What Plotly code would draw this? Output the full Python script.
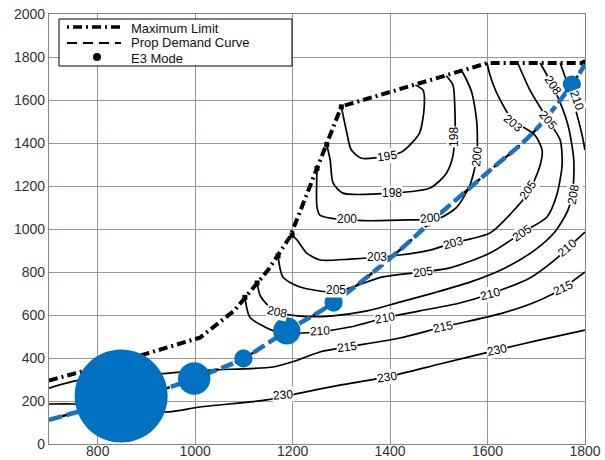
import plotly.graph_objects as go

# ---------------- data ----------------
x_ticks = [800, 1000, 1200, 1400, 1600, 1800]
y_ticks = [0, 200, 400, 600, 800, 1000, 1200, 1400, 1600, 1800, 2000]

max_limit_x = [700, 900, 1010, 1080, 1150, 1195, 1300, 1600, 1800]
max_limit_y = [295, 420, 495, 620, 810, 965, 1570, 1772, 1772]

demand_x = [700, 760, 848, 942, 998, 1050, 1099, 1188, 1284, 1420, 1488, 1600, 1693, 1773, 1800]
demand_y = [112, 150, 205, 260, 305, 350, 398, 526, 658, 902, 1042, 1263, 1447, 1672, 1765]

e3_x = [848, 998, 1099, 1188, 1284, 1773, 1800]
e3_y = [223, 305, 398, 526, 658, 1672, 1770]

bubble_x = [848, 998, 1099, 1188, 1284, 1773]
bubble_y = [223, 305, 398, 526, 658, 1672]
bubble_share = [75.6, 9.2, 2.9, 6.5, 2.9, 2.9]

# contour lines (fuel consumption levels)
c195_x = [1300, 1310, 1320, 1340, 1395, 1425, 1460, 1470, 1468, 1452]
c195_y = [1568, 1460, 1370, 1330, 1340, 1360, 1445, 1565, 1645, 1670]
c198_x = [1270, 1277, 1283, 1303, 1404, 1482, 1513, 1527, 1533, 1533, 1529, 1515]
c198_y = [1392, 1321, 1214, 1167, 1167, 1191, 1251, 1321, 1428, 1553, 1670, 1713]
c200_x = [1250, 1250, 1256, 1311, 1441, 1502, 1537, 1564, 1578, 1578, 1568, 1554, 1547]
c200_y = [1282, 1102, 1065, 1042, 1042, 1051, 1102, 1205, 1335, 1493, 1633, 1707, 1735]
c203_x = [1199, 1209, 1229, 1256, 1318, 1420, 1482, 1529, 1605, 1660, 1687, 1708, 1712, 1697, 1652, 1619, 1605, 1599]
c203_y = [972, 949, 888, 856, 860, 879, 902, 935, 981, 1102, 1181, 1298, 1367, 1437, 1507, 1632, 1716, 1772]
c205_x = [1170, 1180, 1215, 1283, 1318, 1385, 1467, 1523, 1605, 1673, 1722, 1742, 1753, 1749, 1724, 1687, 1662]
c205_y = [875, 777, 730, 707, 726, 777, 800, 819, 888, 986, 1056, 1158, 1298, 1414, 1507, 1646, 1772]
c208_x = [1127, 1133, 1149, 1168, 1215, 1277, 1353, 1420, 1488, 1564, 1636, 1697, 1738, 1765, 1775, 1777, 1765, 1738, 1708]
c208_y = [749, 693, 646, 614, 595, 595, 619, 660, 702, 753, 819, 902, 986, 1088, 1181, 1321, 1484, 1646, 1772]
c210_x = [1102, 1112, 1147, 1180, 1250, 1318, 1389, 1461, 1543, 1605, 1687, 1738, 1769, 1800]
c210_y = [682, 591, 540, 516, 521, 544, 586, 619, 656, 698, 772, 856, 921, 986]
c210b_x = [1749, 1765, 1781, 1794, 1800]
c210b_y = [1772, 1670, 1553, 1437, 1367]
c215_x = [700, 764, 866, 948, 1030, 1160, 1205, 1256, 1311, 1420, 1508, 1625, 1708, 1755, 1800]
c215_y = [260, 298, 316, 330, 344, 358, 386, 428, 451, 493, 544, 605, 670, 726, 800]
c230_x = [700, 753, 846, 942, 1010, 1147, 1215, 1297, 1394, 1502, 1619, 1708, 1800]
c230_y = [186, 186, 167, 149, 172, 205, 237, 274, 312, 372, 437, 484, 530]

contours = [(c195_x, c195_y), (c198_x, c198_y), (c200_x, c200_y), (c203_x, c203_y),
            (c205_x, c205_y), (c208_x, c208_y), (c210_x, c210_y), (c210b_x, c210b_y),
            (c215_x, c215_y), (c230_x, c230_y)]
bounded = [c195_x, c198_x, c200_x, c203_x, c205_x, c208_x, c210_x]
bounded_y = [c195_y, c198_y, c200_y, c203_y, c205_y, c208_y, c210_y]

# contour labels: text, x, y, angle
label_text = ["195", "198", "198", "200", "200", "200", "203", "203", "205", "203",
              "205", "205", "205", "205", "208", "208", "208", "210", "210", "210",
              "210", "210", "215", "215", "215", "230", "230", "230"]
label_x = [1394, 1404, 1531, 1311, 1482, 1578, 1373, 1529, 1683, 1652,
           1288, 1467, 1671, 1724, 1168, 1775, 1734, 1256, 1389, 1605,
           1763, 1783, 1311, 1508, 1755, 1180, 1394, 1619]
label_y = [1340, 1167, 1428, 1045, 1053, 1335, 868, 935, 1181, 1493,
           714, 800, 981, 1507, 614, 1160, 1670, 524, 586, 700,
           912, 1600, 451, 544, 726, 226, 312, 437]
label_angle = [-8, 0, -90, 0, -6, -85, 0, -15, -55, 40,
               0, -8, -35, 50, 12, -80, 55, -3, -10, -15,
               -40, 70, -8, -12, -25, -5, -8, -12]

# ---------------- figure ----------------
fig = go.Figure()

for cx, cy in contours:
    fig.add_trace(go.Scatter(x=cx, y=cy, mode="lines", showlegend=False, hoverinfo="skip",
                             line=dict(color="black", width=1.7, shape="spline", smoothing=0.7)))

fig.add_trace(go.Scatter(x=[v[0] for v in bounded], y=[v[0] for v in bounded_y], mode="markers",
                         showlegend=False, hoverinfo="skip",
                         marker=dict(symbol="square", size=5, color="black")))

fig.add_trace(go.Scatter(x=max_limit_x, y=max_limit_y, mode="lines", name="Maximum Limit",
                         line=dict(color="black", width=4, dash="9px,4px,2px,4px")))

fig.add_trace(go.Scatter(x=demand_x, y=demand_y, mode="lines", name="Prop Demand Curve",
                         line=dict(color="black", width=2.5, dash="8px,5px", shape="spline")))

fig.add_trace(go.Scatter(x=e3_x, y=e3_y, mode="markers", name="E3 Mode",
                         marker=dict(color="black", size=8)))

fig.add_trace(go.Scatter(x=demand_x, y=demand_y, mode="lines", showlegend=False,
                         line=dict(color="#1b72c0", width=4.5, dash="13px,5px", shape="spline")))

fig.add_trace(go.Scatter(x=bubble_x, y=bubble_y, mode="markers", showlegend=False,
                         marker=dict(color="#0070C0", size=bubble_share, sizemode="area",
                                     sizeref=2 * max(bubble_share) / (93 ** 2), line=dict(width=0),
                                     opacity=1)))

for t, lx, ly, ang in zip(label_text, label_x, label_y, label_angle):
    fig.add_annotation(x=lx, y=ly, text=t, showarrow=False, textangle=ang,
                       font=dict(family="Liberation Sans, Arial", size=12, color="black"),
                       bgcolor="white", borderpad=0)

# manual legend (box, samples, text)
L, T, W, H = 49, 14, 536, 430
def px(xp):
    return (xp - L) / W
def py(yp):
    return (T + H - yp) / H

fig.add_shape(type="rect", xref="paper", yref="paper", x0=px(59), x1=px(292), y0=py(66), y1=py(19),
              line=dict(color="black", width=1), fillcolor="white", layer="above")
fig.add_shape(type="line", xref="paper", yref="paper", x0=px(67), x1=px(121), y0=py(27), y1=py(27),
              line=dict(color="black", width=3.5, dash="2px,4px,9px,4px"), layer="above")
fig.add_shape(type="line", xref="paper", yref="paper", x0=px(67), x1=px(121), y0=py(43), y1=py(43),
              line=dict(color="black", width=2, dash="10px,6px"), layer="above")
fig.add_shape(type="circle", xref="paper", yref="paper", xsizemode="pixel", ysizemode="pixel",
              xanchor=px(97), yanchor=py(57), x0=-4, x1=4, y0=-4, y1=4,
              fillcolor="black", line=dict(color="black", width=0), layer="above")
for txt, yy in [("Maximum Limit", 28), ("Prop Demand Curve", 43), ("E3 Mode", 58)]:
    fig.add_annotation(xref="paper", yref="paper", x=px(129), y=py(yy), text=txt, showarrow=False,
                       xanchor="left", yanchor="middle",
                       font=dict(family="Liberation Sans, Arial", size=13, color="#111"))

axis_common = dict(showgrid=True, gridcolor="#9c958b", gridwidth=1.3, zeroline=False,
                   showline=True, linecolor="#8a8378", linewidth=1.3, mirror=True, ticks="",
                   automargin=False,
                   tickfont=dict(family="Liberation Sans, Arial", size=14, color="#333"))

fig.update_xaxes(range=[700, 1800], tickvals=x_ticks, ticklabelstandoff=-6, **axis_common)
fig.update_yaxes(range=[0, 2000], tickvals=y_ticks, **axis_common)

fig.update_layout(width=605, height=460, margin=dict(l=L, r=605 - L - W, t=T, b=460 - T - H, autoexpand=False),
                  plot_bgcolor="white", paper_bgcolor="white", showlegend=False)

fig.write_html("out.html", config={"responsive": False, "displayModeBar": False},
               post_script="document.body.style.margin='0';")
